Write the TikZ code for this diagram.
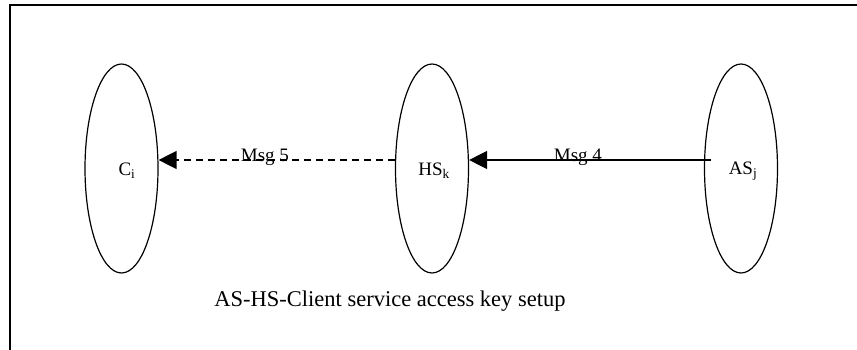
\documentclass[tikz,border=0pt]{standalone}
\usepackage{fontspec}
\setmainfont{Liberation Serif}
\usetikzlibrary{shapes.geometric,arrows.meta}

\tikzset{
  party/.style = {draw, line width=1.2pt, ellipse, inner sep=0pt,
                  minimum width=73pt, minimum height=209pt},
  msgtip/.style = {-{Triangle[length=18pt,width=18pt]}},
  msglabel/.style = {pos=0.55, anchor=base, yshift=-2pt, inner sep=0pt}
}

\begin{document}
\begin{tikzpicture}[x=1pt, y=-1pt, font=\fontsize{19}{22}\selectfont]
            \useasboundingbox (0,0) rectangle (857,350);

            % open frame
            \draw[line width=1.6pt] (10,350) -- (10,5) -- (857,5);

            \node[party] (C) at (121.5,168.5) {};
            \node[party] (HS) at (432,168.5) {};
            \node[party] (AS) at (741,168.5) {};

            \node (Clab) at (127,171) {C\textsubscript{i}};
            \node (HSlab) at (434,171) {HS\textsubscript{k}};
            \node (ASlab) at (743,171) {AS\textsubscript{j}};

            % arrows run a bit above the centres
            \coordinate (Cin) at ([yshift=8.5pt]C.east);
            \coordinate (HSout) at ([yshift=8.5pt]HS.west);
            \coordinate (HSin) at ([yshift=8.5pt]HS.east);
            \coordinate (ASin) at ([xshift=7pt,yshift=8.5pt]AS.west);

            \draw[line width=1.3pt, msgtip, dash pattern=on 7pt off 5pt]
            (HSout) -- node[msglabel]{Msg 5} (Cin);

            \draw[line width=1.3pt, msgtip]
            (ASin) -- node[msglabel]{Msg 4} (HSin);

            \node[font=\fontsize{22.5}{26}\selectfont] (caption) at (390,301)
            {AS-HS-Client service access key setup};
        \end{tikzpicture}
\end{document}
